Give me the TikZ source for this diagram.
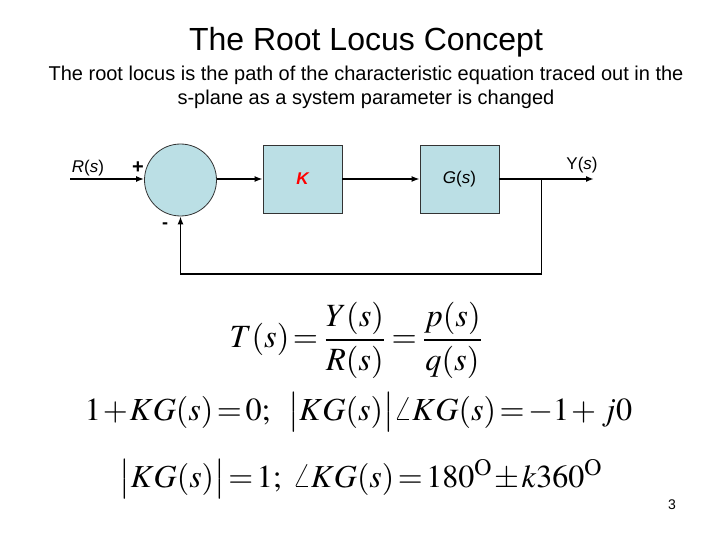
\documentclass[tikz,border=0pt]{standalone}
\usepackage{amsmath}
\usepackage{mathptmx}
\usepackage[no-math]{fontspec}
\setmainfont{Liberation Sans}
\usepackage{xcolor}
\usetikzlibrary{arrows.meta,positioning}
\definecolor{blockfill}{HTML}{BBDFE5}
\newcommand{\eqfit}[2]{\resizebox{#1}{!}{\medmuskip=1mu\thickmuskip=2mu$#2$}}

\begin{document}
\begin{tikzpicture}[
    x=1pt, y=-1pt,
    >={Latex[length=8pt,width=6pt]},
    block/.style={
      rectangle, draw=black!80, fill=blockfill, line width=0.8pt,
      minimum width=79pt, minimum height=68pt,
      font=\fontsize{17}{20}\selectfont
    },
    sumjunc/.style={
      circle, draw=black!80, fill=blockfill, line width=0.8pt,
      minimum size=72pt, inner sep=0pt
    },
    sig/.style={->, line width=2.2pt},
    fbk/.style={->, line width=1.4pt},
    lbl/.style={font=\fontsize{17}{20}\selectfont, inner sep=1pt},
    eqn/.style={inner sep=0pt}
  ]

  \useasboundingbox (0,0) rectangle (720,540);

  % Heading
  \node (title) at (366,42) {\fontsize{32}{36}\selectfont The Root Locus Concept};
  \node[align=center, below=2pt of title, font=\fontsize{20}{24.5}\selectfont] (sub)
    {The root locus is the path of the characteristic equation traced out in the\\
     s-plane as a system parameter is changed};

  % Loop
  \node[sumjunc] (sum) at (180.5,180) {};
  \node[block] (kbox) at (302.5,179) {\textcolor{red}{\bfseries\itshape K}};
  \node[block] (gbox) at (459.5,179) {\textit{G}(\textit{s})};

  \coordinate (rin) at (70,179);
  \coordinate (yout) at (594,179);
  \coordinate (tap) at (541.5,179);
  \coordinate (fbr) at (541.5,274);

  \draw[sig] (rin) -- (sum.west |- rin);
  \draw[sig] (sum.east |- rin) -- (kbox.west |- rin);
  \draw[sig] (kbox) -- (gbox);
  \draw[sig] (gbox) -- (yout);
  \draw[fbk] (tap) -- (fbr) -| (sum.south);

  \node[lbl] (rlab) at (88,168) {\textit{R}(\textit{s})};
  \node[lbl, font=\fontsize{20}{24}\selectfont\bfseries] (plus) at (138,168) {+};
  \node[lbl, font=\fontsize{18}{22}\selectfont\bfseries] (minus) at (165,226) {-};
  \node[lbl] (ylab) at (582,165) {Y(\textit{s})};

  % Equations
  \node[eqn] (eq1) at (357,340)
    {\eqfit{255pt}{T(s)=\dfrac{Y(s)}{R(s)}=\dfrac{p(s)}{q(s)}}};
  \node[eqn] (eq2) at (358.5,412)
    {\eqfit{547pt}{1+KG(s)=0;\;\;\;\; \bigl|KG(s)\bigr|\angle KG(s)=-1+\,j0}};
  \node[eqn] (eq3) at (361.5,479)
    {\eqfit{483pt}{\bigl|KG(s)\bigr|=1;\;\; \angle KG(s)=180^{\mathrm{O}}\pm k360^{\mathrm{O}}}};

  \node[font=\fontsize{14}{16}\selectfont] (pnum) at (672,505) {3};
\end{tikzpicture}
\end{document}
